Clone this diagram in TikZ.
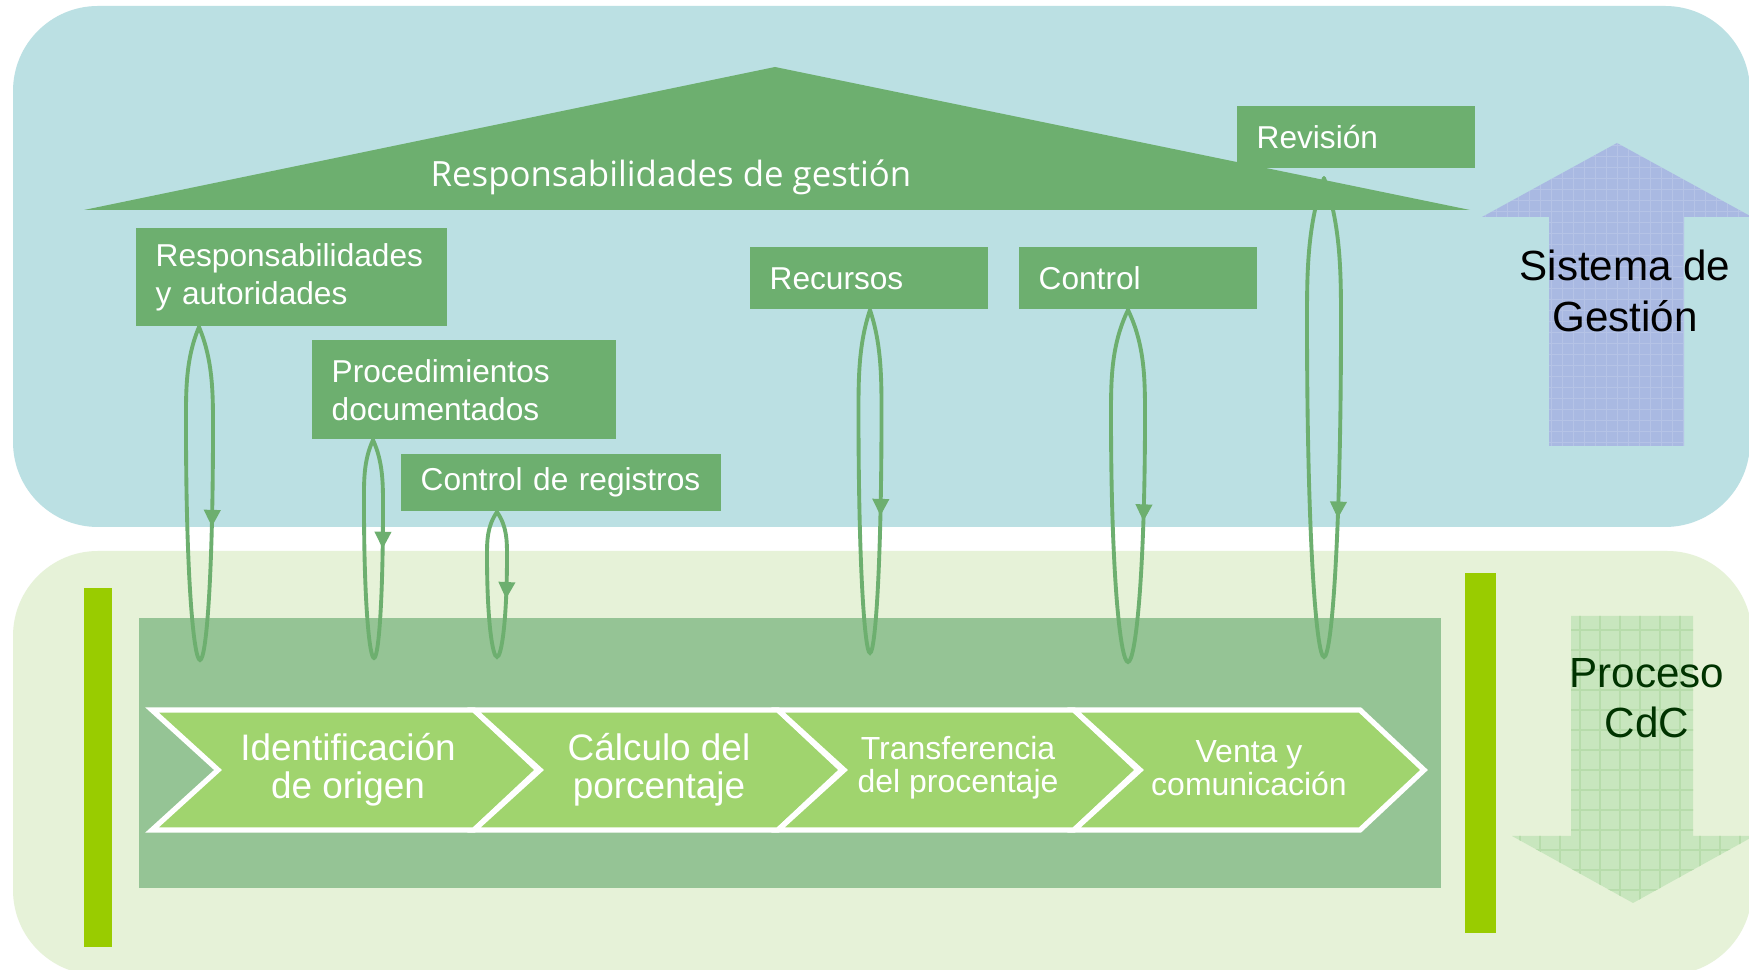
\documentclass[tikz,border=0pt]{standalone}
\usepackage{fontspec}
\setmainfont{Liberation Sans}
\newfontfamily\roofFont{Open Sans}
\usetikzlibrary{arrows.meta,decorations.markings}

\definecolor{topbg}{HTML}{BBE0E3}
\definecolor{botbg}{HTML}{E6F2D8}
\definecolor{boxgreen}{HTML}{6DAF6F}
\definecolor{bandgreen}{HTML}{95C495}
\definecolor{chevfill}{HTML}{A0D46E}
\definecolor{limebar}{HTML}{99CC00}
\definecolor{sysblue}{HTML}{A9B9E2}
\definecolor{cdcfill}{HTML}{C8E6BE}
\definecolor{cdcgrid}{HTML}{B7DCAB}
\definecolor{cdctext}{HTML}{003300}

\begin{document}
\begin{tikzpicture}[>={Triangle[length=1.7mm,width=1.6mm]},
  greenbox/.style={fill=boxgreen, text=white, anchor=south west, inner xsep=0.2cm,
    align=left, text width=#1, font=\fontsize{9}{10.8}\selectfont},
  loopline/.style={draw=boxgreen, line width=1.1pt, line cap=round,
    postaction={decorate, decoration={markings, mark=at position #1 with {\arrow{>}}}}},
  chevtext/.style={text=white, align=center}]

\clip (0,0) rectangle (17.49,9.70);
\fill[white] (0,0) rectangle (17.49,9.70);

%------------------ TOP PANEL (Sistema de Gestion) ------------------%
\fill[topbg, rounded corners=0.85cm] (0.13,4.43) rectangle (17.50,9.64);

\fill[boxgreen] (0.84,7.60) -- (7.75,9.03) -- (14.70,7.60) -- cycle;
\node[font=\roofFont\fontsize{9.9}{11}\selectfont, text=white, anchor=base]
  (roof) at (6.71,7.83) {Responsabilidades de gestión};

\node[greenbox=2.71cm, minimum height=0.98cm] (resp)  at (1.35,6.43) {Responsabilidades\\y autoridades};
\node[greenbox=2.64cm, minimum height=0.99cm] (proc)  at (3.11,5.30) {Procedimientos\\documentados};
\node[greenbox=2.80cm, minimum height=0.57cm] (regis) at (4.00,4.58) {Control de registros};
\node[greenbox=1.98cm, minimum height=0.62cm] (recur) at (7.49,6.60) {Recursos};
\node[greenbox=1.98cm, minimum height=0.62cm] (contr) at (10.18,6.60) {Control};
\node[greenbox=1.98cm, minimum height=0.62cm] (revis) at (12.36,8.01) {Revisión};

\fill[sysblue, path picture={\draw[white, opacity=0.15, line width=0.25pt, step=0.11]
    (14.8,5.2) grid (17.6,8.3);}]
  (15.49,5.24) -- (15.49,7.53) -- (14.82,7.53) -- (16.17,8.27)
  -- (17.52,7.53) -- (16.84,7.53) -- (16.84,5.24) -- cycle;
\node[font=\fontsize{12}{14.5}\selectfont, align=center] (sys) at (16.25,6.79) {Sistema de\\Gestión};

%------------------ BOTTOM PANEL (Proceso CdC) ------------------%
\fill[botbg, rounded corners=0.85cm] (0.13,-0.05) rectangle (17.52,4.19);

\fill[bandgreen] (1.39,0.82) rectangle (14.41,3.52);
\fill[limebar] (0.84,0.23) rectangle (1.12,3.82);
\fill[limebar] (14.65,0.37) rectangle (14.96,3.97);

\foreach \xa/\xb in {1.52/4.74, 4.74/7.78, 7.78/10.74, 10.74/13.60}
  \filldraw[fill=chevfill, draw=white, line width=1.5pt]
    (\xa,1.40) -- ++(0.66,0.60) -- (\xa,2.60) -- (\xb,2.60)
    -- ++(0.64,-0.60) -- (\xb,1.40) -- cycle;

\node[chevtext, font=\fontsize{10.5}{10.8}\selectfont] (ident)  at (3.48,2.00) {Identificación\\de origen};
\node[chevtext, font=\fontsize{10.5}{10.8}\selectfont] (calc)   at (6.59,2.00) {Cálculo del\\porcentaje};
\node[chevtext, font=\fontsize{9.1}{9.4}\selectfont]   (transf) at (9.58,2.02) {Transferencia\\del procentaje};
\node[chevtext, font=\fontsize{9.1}{9.4}\selectfont]   (venta)  at (12.49,2.02) {Venta y\\comunicación};

\fill[cdcfill, path picture={\draw[cdcgrid, line width=0.3pt, step=0.2]
    (15.0,0.6) grid (17.6,3.6);}]
  (15.71,3.54) -- (15.71,1.34) -- (15.12,1.34) -- (16.33,0.67)
  -- (17.54,1.34) -- (16.93,1.34) -- (16.93,3.54) -- cycle;
\node[font=\fontsize{12}{14.2}\selectfont, align=center, text=cdctext] (cdc) at (16.47,2.72) {Proceso\\CdC};

%------------------ LOOPS ------------------%
\coordinate (t1) at ([xshift=0.64cm]resp.south west);
\coordinate (t2) at ([xshift=0.62cm]proc.south west);
\coordinate (t3) at ([xshift=0.97cm]regis.south west);
\coordinate (t4) at ([xshift=1.21cm]recur.south west);
\coordinate (t5) at ([xshift=1.10cm]contr.south west);
\coordinate (t6) at (13.24,7.92);
\coordinate (b1) at (2.00,3.10);
\coordinate (b2) at (3.74,3.12);
\coordinate (b3) at (4.97,3.13);
\coordinate (b4) at (8.70,3.17);
\coordinate (b5) at (11.28,3.08);
\coordinate (b6) at (13.24,3.13);

% index / half width / height / arrow position
\foreach \i/\w/\h/\p in {1/0.14/3.33/0.30, 2/0.10/2.18/0.25, 3/0.10/1.45/0.30,
                         4/0.115/3.43/0.30, 5/0.17/3.52/0.30, 6/0.17/4.79/0.355}
  \draw[loopline=\p] (t\i)
    .. controls +(\w,-0.1*\h) and +(0,0.1*\h) .. ++(\w,-0.3*\h)
    .. controls +(0,-0.45*\h) and +(0.45*\w,0) .. (b\i)
    .. controls +(-0.45*\w,0) and +(0,-0.45*\h) .. ++(-\w,0.7*\h)
    .. controls +(0,0.1*\h) and +(-\w,-0.1*\h) .. (t\i);

\end{tikzpicture}
\end{document}
